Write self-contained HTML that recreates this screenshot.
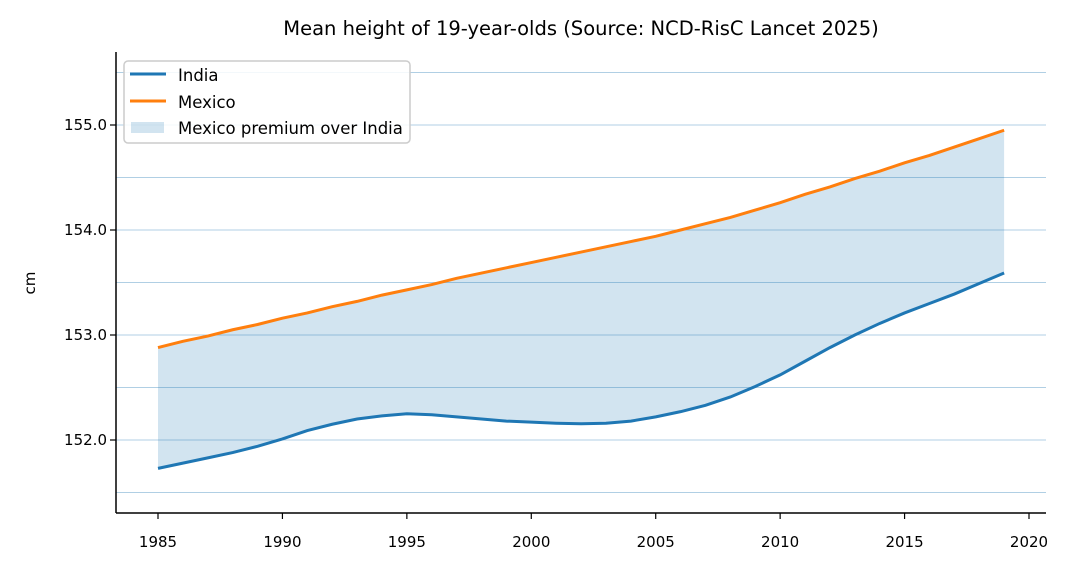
<!DOCTYPE html>
<html><head><meta charset="utf-8"><style>
body{margin:0;background:#fff}
svg{display:block;font-family:"DejaVu Sans","Liberation Sans",sans-serif}
</style></head><body>
<svg id="c" width="1069" height="571"></svg>
<script>
const years=[];for(let y=1985;y<=2019;y++)years.push(y);
const india=[151.73,151.78,151.83,151.88,151.94,152.01,152.09,152.15,152.20,152.23,152.25,152.24,152.22,152.20,152.18,152.17,152.16,152.155,152.16,152.18,152.22,152.27,152.33,152.41,152.51,152.62,152.75,152.88,153.00,153.11,153.21,153.30,153.39,153.49,153.59];
const mexico=[152.88,152.94,152.99,153.05,153.10,153.16,153.21,153.27,153.32,153.38,153.43,153.48,153.54,153.59,153.64,153.69,153.74,153.79,153.84,153.89,153.94,154.00,154.06,154.12,154.19,154.26,154.34,154.41,154.49,154.56,154.64,154.71,154.79,154.87,154.95];
const xTicks=[1985,1990,1995,2000,2005,2010,2015,2020];
const yTicks=[152,153,154,155];
const yGrid=[151.5,152,152.5,153,153.5,154,154.5,155,155.5];
const NS="http://www.w3.org/2000/svg",svg=document.getElementById('c');
const X=v=>158+(v-1985)*(871/35), Y=v=>440-(v-152)*105;
function mk(t,a,p){const e=document.createElementNS(NS,t);for(const k in a)e.setAttribute(k,a[k]);(p||svg).appendChild(e);return e;}
const L=116,R=1046,T=52,B=513;
yGrid.forEach(v=>{const g=mk('line',{x1:L,x2:R,y1:Y(v),y2:Y(v),stroke:'#1f77b4','stroke-width':0.6,'stroke-opacity':0.7});

});
let d='';years.forEach((y,i)=>d+=(i?'L':'M')+X(y)+','+Y(mexico[i]));
for(let i=years.length-1;i>=0;i--)d+='L'+X(years[i])+','+Y(india[i]);
const f=mk('path',{d:d+'Z',fill:'#1f77b4','fill-opacity':0.2});


function line(arr,col,name){const p=mk('path',{d:years.map((y,i)=>(i?'L':'M')+X(y)+','+Y(arr[i])).join(''),fill:'none',stroke:col,'stroke-width':3});

}
line(india,'#1f77b4','india-line');line(mexico,'#ff7f0e','mexico-line');
mk('line',{x1:L,x2:L,y1:T,y2:B,stroke:'#000','stroke-width':1.5});
mk('line',{x1:L,x2:R,y1:B,y2:B,stroke:'#000','stroke-width':1.5});
xTicks.forEach(v=>{mk('line',{x1:X(v),x2:X(v),y1:B,y2:B+6,stroke:'#000','stroke-width':1.2});
const t=mk('text',{x:X(v),y:B+34,'text-anchor':'middle','font-size':15});t.textContent=v;

});
yTicks.forEach(v=>{mk('line',{x1:L-6,x2:L,y1:Y(v),y2:Y(v),stroke:'#000','stroke-width':1.2});
const t=mk('text',{x:L-9,y:Y(v)+5,'text-anchor':'end','font-size':15});t.textContent=v.toFixed(1);

});
const yt=mk('text',{x:35,y:283,'text-anchor':'middle','font-size':15,transform:'rotate(-90 35 283)'});yt.textContent='cm';


const tt=mk('text',{x:581,y:35,'text-anchor':'middle','font-size':19.5});tt.textContent='Mean height of 19-year-olds (Source: NCD-RisC Lancet 2025)';


const lg=mk('g',{});


mk('rect',{x:124,y:61,width:286,height:82,rx:4,fill:'#fff','fill-opacity':0.85,stroke:'#ccc','stroke-width':1.5},lg);
mk('line',{x1:130,x2:166,y1:74,y2:74,stroke:'#1f77b4','stroke-width':3},lg);
mk('line',{x1:130,x2:166,y1:101,y2:101,stroke:'#ff7f0e','stroke-width':3},lg);
mk('rect',{x:131,y:122,width:33,height:11,fill:'#1f77b4','fill-opacity':0.2},lg);
[['India',80],['Mexico',107],['Mexico premium over India',133]].forEach(([s,y])=>{const t=mk('text',{x:178,y:y+1,'font-size':16.5},lg);t.textContent=s;

});
</script>
</body></html>
